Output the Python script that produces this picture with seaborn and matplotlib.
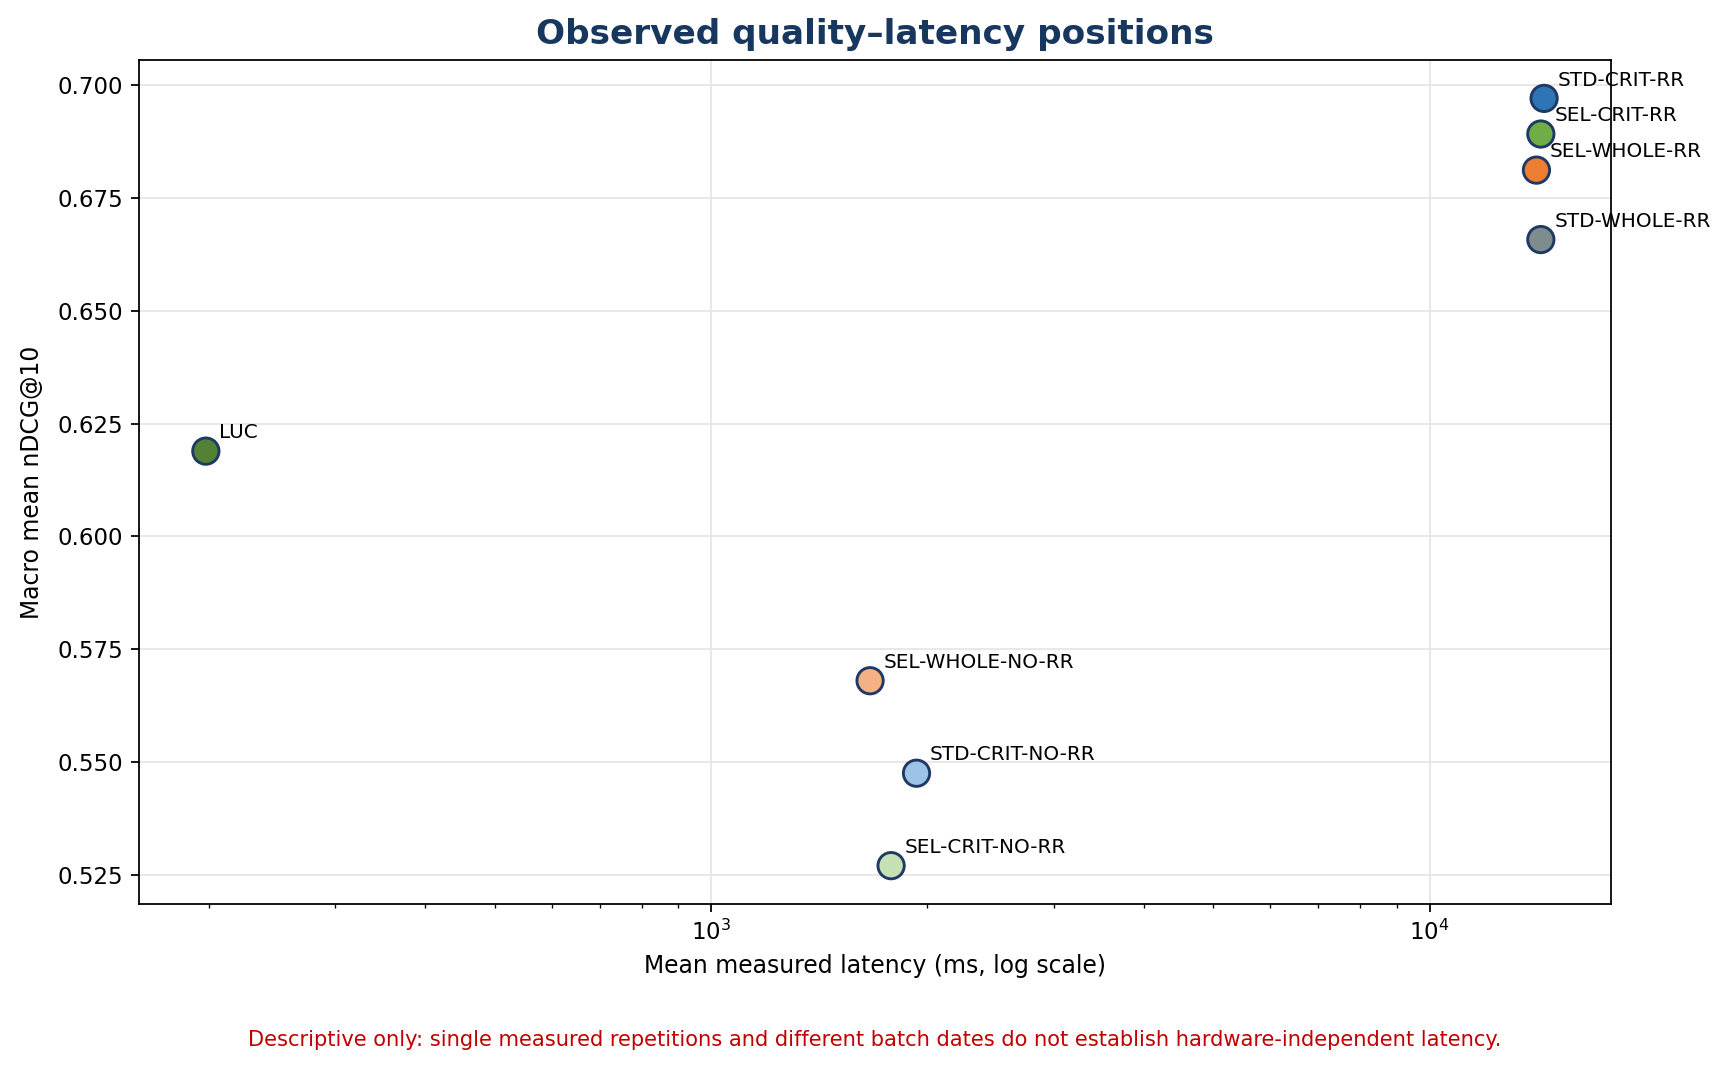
import matplotlib
matplotlib.use("Agg")
import matplotlib.pyplot as plt
import seaborn as sns
import pandas as pd

configs = ["STD-CRIT-RR", "SEL-CRIT-RR", "SEL-WHOLE-RR", "STD-WHOLE-RR",
           "LUC", "SEL-WHOLE-NO-RR", "STD-CRIT-NO-RR", "SEL-CRIT-NO-RR"]
latency_ms = [14430, 14280, 14080, 14280, 198, 1664, 1931, 1780]
ndcg10 = [0.6971, 0.6892, 0.6812, 0.6658, 0.6189, 0.5680, 0.5475, 0.5270]
colors = ["#2e75b6", "#70ad47", "#ed7d31", "#7f8c8d", "#548235",
          "#f4b183", "#9dc3e6", "#c5e0b4"]

df = pd.DataFrame({"config": configs, "latency": latency_ms, "ndcg": ndcg10})

fig = plt.figure(figsize=(10.8, 6.6875), dpi=160)
ax = fig.add_axes([0.0804, 0.1551, 0.8519, 0.7888])

sns.scatterplot(data=df, x="latency", y="ndcg", hue="config",
                palette=dict(zip(configs, colors)), s=140,
                edgecolor="#1f3864", linewidth=1.3, legend=False,
                zorder=3, ax=ax)
ax.set_xscale("log")

for name, x, y in zip(configs, latency_ms, ndcg10):
    ax.annotate(name, (x, y), xytext=(6, 4), textcoords="offset points",
                fontsize=9, va="bottom", ha="left", zorder=4)

ax.grid(True, color="#e6e6e6", linewidth=0.8, zorder=0)
ax.set_axisbelow(True)
ax.tick_params(labelsize=10.3)
ax.set_xlabel("Mean measured latency (ms, log scale)", fontsize=10.6)
ax.set_ylabel("Macro mean nDCG@10", fontsize=10.6, labelpad=6)
ax.set_title("Observed quality\u2013latency positions", fontsize=15.4,
             fontweight="bold", color="#17375e", pad=7)

fig.text(0.5064, 0.028, "Descriptive only: single measured repetitions and different batch dates "
         "do not establish hardware-independent latency.",
         ha="center", va="center", fontsize=9.45, color="#c00000")

fig.savefig("out.png", dpi=160)
